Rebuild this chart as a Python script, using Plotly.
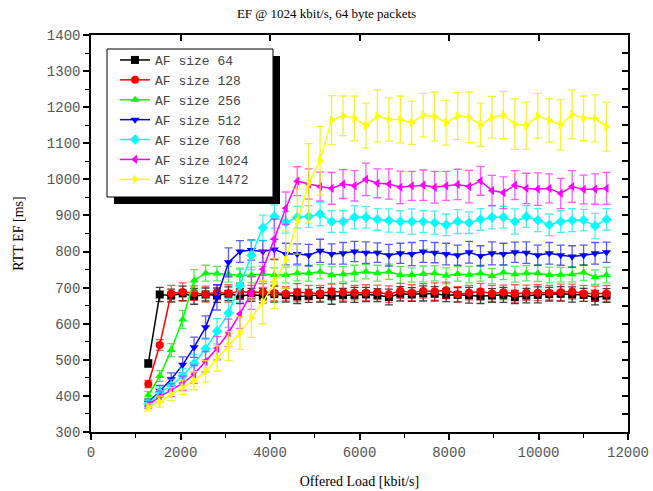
import plotly.graph_objects as go

offered_load = [256 * k for k in range(5, 46)]

af64 = [490, 681, 678, 684, 676, 681, 679, 683, 677, 680, 678, 682, 679, 676,
        677, 680, 676, 679, 680, 681, 679, 674, 683, 681, 684, 683, 679, 680, 679,
        676, 678, 680, 674, 678, 680, 682, 683, 681, 680, 672, 678]
af128 = [433, 541, 684, 688, 685, 682, 687, 684, 690, 686, 688, 685, 683, 687,
         686, 684, 689, 687, 686, 686, 687, 682, 691, 686, 691, 689, 693, 682, 686,
         689, 684, 687, 684, 686, 686, 686, 687, 689, 684, 684, 684]
af256 = [402, 455, 527, 612, 720, 740, 739, 737, 734, 735, 738, 735, 735, 740,
         740, 744, 735, 737, 740, 744, 740, 744, 735, 735, 738, 740, 733, 738, 736,
         740, 732, 742, 737, 740, 740, 735, 736, 737, 742, 729, 735]
af512 = [381, 414, 446, 486, 535, 590, 673, 770, 800, 804, 800, 806, 793, 793,
         790, 802, 793, 795, 800, 797, 797, 790, 795, 793, 800, 797, 793, 790, 798,
         788, 795, 793, 798, 797, 790, 795, 790, 786, 790, 795, 798]
af768 = [378, 410, 428, 456, 490, 531, 579, 630, 705, 790, 866, 897, 881, 895,
         897, 904, 883, 883, 895, 895, 889, 886, 883, 883, 883, 880, 874, 883, 880,
         889, 895, 895, 883, 897, 887, 874, 883, 887, 887, 871, 889]
af1024 = [375, 398, 416, 435, 460, 495, 532, 575, 627, 685, 751, 835, 920, 995,
          987, 980, 975, 987, 982, 1000, 989, 987, 978, 982, 984, 978, 982, 986, 980,
          996, 969, 963, 984, 975, 973, 975, 961, 980, 972, 973, 975]
af1472 = [368, 384, 405, 424, 442, 468, 504, 538, 574, 617, 660, 712, 777, 883,
          989, 1052, 1164, 1176, 1169, 1149, 1176, 1166, 1166, 1157, 1178, 1174, 1157,
          1176, 1172, 1151, 1172, 1178, 1153, 1149, 1176, 1163, 1151, 1180, 1169, 1169, 1146]

err64 = [10, 20, 18, 20, 22, 18, 20, 19, 21, 18, 20, 22, 19, 20, 18, 20, 22, 19, 21, 20, 18,
         22, 20, 19, 21, 20, 18, 20, 22, 20, 19, 21, 18, 20, 22, 19, 20, 21, 18, 20, 19]
err128 = [10, 15, 22, 25, 20, 22, 20, 24, 21, 20, 23, 22, 20, 24, 20, 22, 21, 24, 20, 22, 20,
          23, 21, 22, 20, 24, 22, 21, 20, 23, 22, 20, 24, 21, 22, 20, 23, 21, 22, 20, 22]
err256 = [10, 15, 18, 25, 30, 22, 20, 22, 20, 22, 21, 20, 22, 21, 22, 20, 23, 21, 22, 20, 22,
          21, 23, 20, 22, 21, 22, 20, 23, 22, 21, 20, 22, 21, 23, 22, 20, 21, 22, 20, 22]
err512 = [10, 15, 18, 22, 28, 32, 35, 40, 30, 28, 30, 28, 30, 28, 30, 32, 28, 30, 28, 30, 27,
          30, 28, 32, 30, 28, 30, 28, 30, 28, 32, 30, 28, 30, 28, 30, 28, 30, 28, 30, 28]
err768 = [10, 15, 18, 20, 25, 30, 35, 40, 45, 40, 35, 32, 30, 30, 30, 32, 30, 30, 32, 30, 30,
          32, 30, 35, 30, 32, 30, 33, 30, 30, 32, 30, 35, 30, 32, 30, 30, 32, 30, 35, 30]
err1024 = [10, 15, 18, 20, 25, 28, 32, 38, 40, 45, 50, 55, 45, 40, 42, 40, 44, 40, 42, 45, 40,
           42, 45, 40, 42, 44, 40, 42, 45, 40, 42, 44, 40, 42, 45, 40, 42, 44, 40, 42, 44]
err1472 = [10, 15, 18, 20, 25, 30, 35, 40, 45, 55, 60, 70, 80, 90, 110, 95, 68, 55, 62, 62, 72,
           60, 65, 60, 60, 68, 62, 65, 70, 60, 58, 65, 70, 65, 62, 60, 70, 68, 62, 65, 68]

series = [
    ("AF size 64", af64, err64, "#000000", "rgba(0,0,0,0.75)", "square"),
    ("AF size 128", af128, err128, "#ff0000", "rgba(255,0,0,0.65)", "circle"),
    ("AF size 256", af256, err256, "#00ff00", "rgba(0,220,0,0.65)", "triangle-up"),
    ("AF size 512", af512, err512, "#0000ff", "rgba(0,0,255,0.65)", "triangle-down"),
    ("AF size 768", af768, err768, "#00ffff", "rgba(0,230,230,0.7)", "diamond"),
    ("AF size 1024", af1024, err1024, "#ff00ff", "rgba(255,0,255,0.65)", "triangle-left"),
    ("AF size 1472", af1472, err1472, "#ffff00", "rgba(240,240,0,0.8)", "triangle-right"),
]

fig = go.Figure()
for name, vals, errs, col, ecol, sym in series:
    fig.add_trace(go.Scatter(
        x=offered_load, y=vals, name=name, mode="lines+markers",
        line=dict(color=col, width=1.5),
        marker=dict(symbol=sym, size=8, color=col),
        error_y=dict(type="data", array=errs, visible=True, color=ecol,
                     thickness=1.3, width=4),
    ))

# invisible trace for mirrored axes with inward ticks
fig.add_trace(go.Scatter(x=[0], y=[300], xaxis="x2", yaxis="y2", mode="markers",
                         marker=dict(opacity=0), showlegend=False, hoverinfo="skip"))

tickfont = dict(family="Liberation Mono, Courier New, monospace", size=14, color="#555555")
serif = "Liberation Serif, Times New Roman, serif"

L, R, T, B = 91, 628, 35, 432
def px(xp):
    return (xp - L) / (R - L)
def py(yp):
    return (B - yp) / (B - T)

fig.update_layout(
    width=653, height=491,
    margin=dict(l=L, r=653 - R, t=T, b=491 - B, autoexpand=False),
    paper_bgcolor="white", plot_bgcolor="white",
    title=dict(text="EF @ 1024 kbit/s, 64 byte packets", x=0.5, xanchor="center",
               y=1 - 13 / 491, yref="container", yanchor="middle", automargin=False,
               font=dict(family=serif, size=13, color="black")),
    showlegend=True,
    legend=dict(x=px(115), y=py(45), xanchor="left", yanchor="top",
                bgcolor="rgba(0,0,0,0)", borderwidth=0,
                font=dict(family="Liberation Mono, Courier New, monospace", size=13, color="#444444"),
                tracegroupgap=0, itemwidth=30),
    xaxis=dict(range=[0, 12000], dtick=2000, tick0=0, showgrid=False, zeroline=False,
               automargin=False, tickformat="d",
               showline=True, linecolor="black", linewidth=1.5,
               ticks="outside", ticklen=6, tickwidth=1.5, tickcolor="black",
               minor=dict(dtick=1000, ticks="outside", ticklen=4, tickcolor="black", tickwidth=1),
               tickfont=tickfont,
               title=dict(text="Offered Load [kbit/s]", font=dict(family=serif, size=14, color="black"),
                          standoff=17)),
    yaxis=dict(range=[300, 1400], dtick=100, tick0=300, showgrid=False, zeroline=False,
               automargin=False,
               showline=True, linecolor="black", linewidth=1.5,
               ticks="outside", ticklen=6, tickwidth=1.5, tickcolor="black",
               minor=dict(dtick=50, ticks="outside", ticklen=4, tickcolor="black", tickwidth=1),
               tickfont=tickfont,
               title=dict(text="RTT EF [ms]", font=dict(family=serif, size=14, color="black"),
                          standoff=20)),
    xaxis2=dict(range=[0, 12000], overlaying="x", side="top", anchor="y2", dtick=2000, tick0=0,
                automargin=False,
                showgrid=False, zeroline=False, showline=True, linecolor="black", linewidth=1.5,
                ticks="inside", ticklen=6, tickwidth=1.5, tickcolor="black", showticklabels=False),
    yaxis2=dict(range=[300, 1400], overlaying="y", side="right", anchor="x2", dtick=50, tick0=300,
                automargin=False,
                showgrid=False, zeroline=False, showline=True, linecolor="black", linewidth=1.5,
                ticks="inside", ticklen=6, tickwidth=1.5, tickcolor="black", showticklabels=False),
    shapes=[
        dict(type="rect", xref="paper", yref="paper",
             x0=px(114), x1=px(280), y0=py(204), y1=py(56),
             fillcolor="black", line=dict(width=0), layer="above"),
        dict(type="rect", xref="paper", yref="paper",
             x0=px(107), x1=px(273), y0=py(197), y1=py(49),
             fillcolor="white", line=dict(color="black", width=1), layer="above"),
    ],
)

fig.write_html("out.html", config={"displayModeBar": False},
               post_script="document.body.style.margin='0';")
